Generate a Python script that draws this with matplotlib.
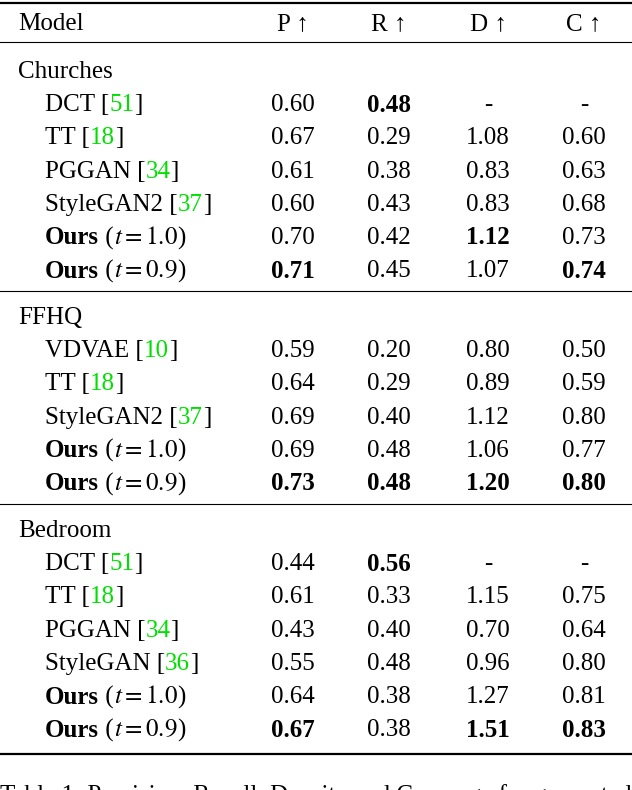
import matplotlib
matplotlib.use("Agg")
import matplotlib.pyplot as plt

plt.rcParams["font.family"] = ["Liberation Serif", "DejaVu Serif"]
plt.rcParams["mathtext.fontset"] = "stix"

columns = ["P \u2191", "R \u2191", "D \u2191", "C \u2191"]
sections = ["Churches", "FFHQ", "Bedroom"]
# (name, cite, t, values, bold flags)
churches = [
    ("DCT", "51", None, ["0.60", "0.48", "-", "-"], [0, 1, 0, 0]),
    ("TT", "18", None, ["0.67", "0.29", "1.08", "0.60"], [0, 0, 0, 0]),
    ("PGGAN", "34", None, ["0.61", "0.38", "0.83", "0.63"], [0, 0, 0, 0]),
    ("StyleGAN2", "37", None, ["0.60", "0.43", "0.83", "0.68"], [0, 0, 0, 0]),
    ("Ours", None, "1.0", ["0.70", "0.42", "1.12", "0.73"], [0, 0, 1, 0]),
    ("Ours", None, "0.9", ["0.71", "0.45", "1.07", "0.74"], [1, 0, 0, 1]),
]
ffhq = [
    ("VDVAE", "10", None, ["0.59", "0.20", "0.80", "0.50"], [0, 0, 0, 0]),
    ("TT", "18", None, ["0.64", "0.29", "0.89", "0.59"], [0, 0, 0, 0]),
    ("StyleGAN2", "37", None, ["0.69", "0.40", "1.12", "0.80"], [0, 0, 0, 0]),
    ("Ours", None, "1.0", ["0.69", "0.48", "1.06", "0.77"], [0, 0, 0, 0]),
    ("Ours", None, "0.9", ["0.73", "0.48", "1.20", "0.80"], [1, 1, 1, 1]),
]
bedroom = [
    ("DCT", "51", None, ["0.44", "0.56", "-", "-"], [0, 1, 0, 0]),
    ("TT", "18", None, ["0.61", "0.33", "1.15", "0.75"], [0, 0, 0, 0]),
    ("PGGAN", "34", None, ["0.43", "0.40", "0.70", "0.64"], [0, 0, 0, 0]),
    ("StyleGAN", "36", None, ["0.55", "0.48", "0.96", "0.80"], [0, 0, 0, 0]),
    ("Ours", None, "1.0", ["0.64", "0.38", "1.27", "0.81"], [0, 0, 0, 0]),
    ("Ours", None, "0.9", ["0.67", "0.38", "1.51", "0.83"], [1, 0, 1, 1]),
]
blocks = [churches, ffhq, bedroom]

fig = plt.figure(figsize=(6.32, 7.9), dpi=100)
ax = fig.add_axes([0, 0, 1, 1])
ax.set_xlim(0, 632)
ax.set_ylim(790, 0)
ax.axis("off")
renderer = fig.canvas.get_renderer()
FS = 18
GREEN = "#00e000"


def seg_text(x, y, parts):
    for s, kw in parts:
        t = ax.text(x, y, s, fontsize=FS, va="center", ha="left", **kw)
        bb = t.get_window_extent(renderer)
        x += bb.width * 632 / fig.bbox.width


col_x = [293, 389, 488, 584]
ax.plot([0, 632], [3, 3], color="black", lw=1.6)
ax.text(18, 24, "Model", fontsize=FS, va="center")
for cx, c in zip(col_x, columns):
    ax.text(cx, 24, c, fontsize=FS, va="center", ha="center",
            family=["Liberation Serif", "DejaVu Sans"])
ax.plot([0, 632], [42, 42], color="black", lw=0.8)

y0s = [72, 318, 531]
ends = [291, 504, 754]
for sec, rows, y0, ye in zip(sections, blocks, y0s, ends):
    ax.text(18, y0, sec, fontsize=FS, va="center")
    for i, (name, cite, t, vals, bold) in enumerate(rows):
        y = y0 + 33.2 * (i + 1)
        if cite:
            seg_text(45, y, [(name + " [", {}), (cite, {"color": GREEN}), ("]", {})])
        else:
            seg_text(45, y, [("Ours", {"fontweight": "bold"}), (" (", {}),
                             ("$t = " + t + "$", {}), (")", {})])
        for cx, v, b in zip(col_x, vals, bold):
            ax.text(cx, y, v, fontsize=FS, va="center", ha="center",
                    fontweight="bold" if b else "normal")
    lw = 1.6 if ye == 754 else 0.8
    ax.plot([0, 632], [ye, ye], color="black", lw=lw)

ax.text(0, 796, "Table 1: Precision, Recall, Density and Coverage for generated",
        fontsize=FS, va="center", ha="left")

fig.savefig("out.png", dpi=100)
